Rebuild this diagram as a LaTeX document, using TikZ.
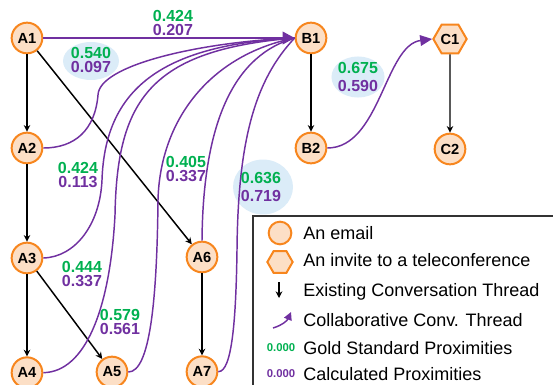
\documentclass[tikz,border=0pt]{standalone}
\usepackage{fontspec}
\setmainfont{Liberation Sans}
\usetikzlibrary{shapes, arrows.meta, positioning, calc}

\definecolor{mailorange}{RGB}{247,134,30}
\definecolor{mailfill}{RGB}{252,223,198}
\definecolor{collab}{RGB}{112,48,160}
\definecolor{gold}{RGB}{0,176,80}
\definecolor{bubble}{RGB}{219,236,248}

\newcommand{\gs}[1]{\textcolor{gold}{#1}}
\newcommand{\cp}[1]{\textcolor{collab}{#1}}

\tikzset{
  email/.style = {draw=mailorange, fill=mailfill, circle, line width=1.5pt, minimum size=23pt, inner sep=0pt, font=\bfseries\fontsize{11}{12}\selectfont},
  invite/.style = {email, regular polygon, regular polygon sides=6, minimum size=25pt},
  thread/.style = {-{Stealth[length=5pt,width=5pt]}, line width=1.1pt, black},
  collabline/.style = {draw=collab, line width=1.1pt},
  prox/.style = {align=center, inner sep=0pt, font=\bfseries\fontsize{12}{11}\selectfont},
  legtext/.style = {anchor=base west, inner sep=0pt, font=\fontsize{13.5}{14}\selectfont},
  legnum/.style = {inner sep=0pt, font=\bfseries\fontsize{8.5}{9}\selectfont}
}

\begin{document}
\begin{tikzpicture} [x=0.75pt, y=-0.75pt, node distance=82.5pt]

\useasboundingbox (0,0) rectangle (553,385);
\clip (0,0) rectangle (553,385);

% bubbles behind the proximities
\fill [bubble] (91,61) ellipse [x radius=21pt, y radius=14.25pt];
\fill [bubble] (263,187) ellipse [x radius=22.5pt, y radius=20.6pt];
\fill [bubble] (358,77) ellipse [x radius=19.9pt, y radius=15.4pt];

% emails
\node [email] (a1) at (27,38) {A1};
\node [email, below of = a1] (a2) {A2};
\node [email, below of = a2] (a3) {A3};
\node [email, below of = a3, node distance=86pt] (a4) {A4};
\node [email] (a5) at (112,372) {A5};
\node [email] (a6) at (202,257) {A6};
\node [email, below of = a6, node distance=86pt] (a7) {A7};
\node [email] (b1) at (311,38) {B1};
\node [email, below of = b1] (b2) {B2};
\node [invite] (c1) at (450,39) {C1};
\node [email, below of = c1] (c2) {C2};

% existing threads
\draw [thread] (a1) -- (a2);
\draw [thread] (a2) -- (a3);
\draw [thread] (a3) -- (a4);
\draw [thread] (a1) -- (a6);
\draw [thread] (a3) -- (a5);
\draw [thread] (a6) -- (a7);
\draw [thread] (b1) -- (b2);
\draw [thread] (c1) -- (c2);

% collaborative threads
\draw [collabline] (a2.east) .. controls (75,148) and (95,130) .. (98,95) .. controls (99,65) and (200,42) .. (b1.west);
\draw [collabline] (a3.east) .. controls (75,257) and (100,225) .. (102,180) .. controls (105,90) and (160,45) .. (b1.west);
\draw [collabline] (a4.east) .. controls (85,372) and (110,310) .. (115,215) .. controls (117,100) and (150,50) .. (b1.west);
\draw [collabline] (a5.east) .. controls (150,372) and (157,300) .. (158,200) .. controls (160,120) and (210,55) .. (b1.west);
\draw [collabline] (a6.north) .. controls (203,120) and (235,55) .. (b1.west);
\draw [collabline] (a7.east) .. controls (232,372) and (236,320) .. (237,250) .. controls (238,140) and (255,80) .. (b1.west);
\draw [collabline, -{Triangle[length=9pt,width=9.5pt]}] (a1) -- (b1);
\draw [collabline, -{Triangle[length=9pt,width=8pt]}] (b2.east) .. controls (380,148) and (385,45) .. (c1.west);

% proximities
\node [prox] (p1) at (173,23) {\gs{0.424}\\\cp{0.207}};
\node [prox] (p2) at (91,60) {\gs{0.540}\\\cp{0.097}};
\node [prox] (p3) at (78,175) {\gs{0.424}\\\cp{0.113}};
\node [prox] (p4) at (82,274) {\gs{0.444}\\\cp{0.337}};
\node [prox] (p5) at (120,322) {\gs{0.579}\\\cp{0.561}};
\node [prox] (p6) at (186,169) {\gs{0.405}\\\cp{0.337}};
\node [prox] (p7) at (261,187) {\gs{0.636}\\[3pt]\cp{0.719}};
\node [prox] (p8) at (358,77) {\gs{0.675}\\[2.5pt]\cp{0.590}};

% legend
\draw [line width=1.1pt, draw=black!80] (253,216) rectangle (580,420);
\node [email, minimum size=17pt] (lmail) at (280,233) {};
\node [legtext] (tmail) at (303,239.5) {An email};
\node [invite, minimum size=19pt] (linvite) at (280,262) {};
\node [legtext] (tinvite) at (303,266.5) {An invite to a teleconference};
\coordinate (lthr1) at (279,282);
\coordinate (lthr2) at (279,298);
\draw [thread] (lthr1) -- (lthr2);
\node [legtext] (tthread) at (303,296.5) {Existing Conversation Thread};
\coordinate (lcol1) at (273,328);
\coordinate (lcol2) at (291,312);
\draw [collabline, -{Triangle[length=6pt,width=6pt]}] (lcol1) to [bend right=25] (lcol2);
\node [legtext] (tcollab) at (303,326.5) {Collaborative Conv. Thread};
\node [legnum, text=gold] (lgold) at (281,348) {0.000};
\node [legtext] (tgold) at (303,354.5) {Gold Standard Proximities};
\node [legnum, text=collab] (lcalc) at (281,374) {0.000};
\node [legtext] (tcalc) at (303,380.5) {Calculated Proximities};

\end{tikzpicture}
\end{document}
